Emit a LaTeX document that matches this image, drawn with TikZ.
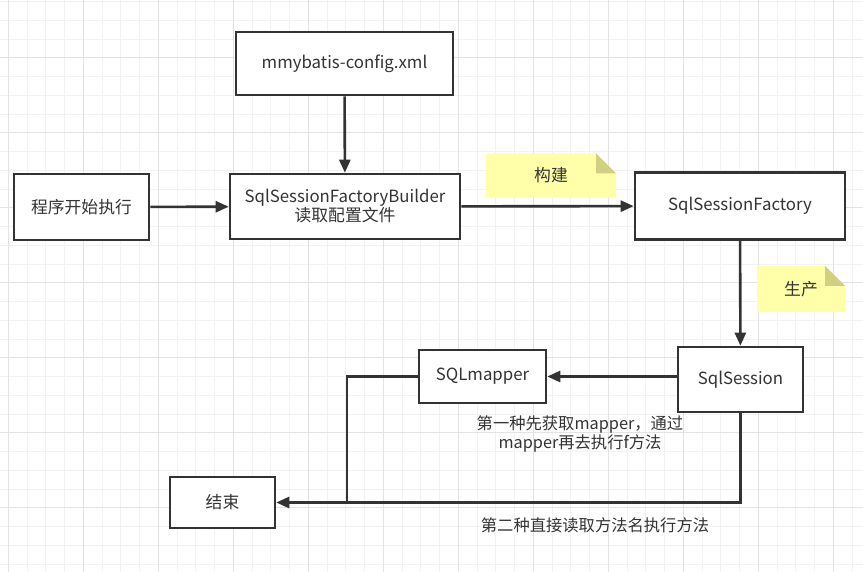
\documentclass[tikz,border=0pt]{standalone}
\usepackage{fontspec}
\setmainfont{Noto Sans CJK SC}
\usepackage{xcolor}
\usetikzlibrary{arrows.meta,positioning,calc}

\definecolor{inkgray}{HTML}{333333}
\definecolor{gridminor}{HTML}{F2F2F2}
\definecolor{gridmajor}{HTML}{E3E3E3}
\definecolor{noteyellow}{HTML}{FFFFAA}
\definecolor{notefold}{HTML}{D0D080}

\begin{document}
\begin{tikzpicture}[
    x=1pt, y=-1pt,
    font=\fontsize{16.8}{20}\selectfont, text=inkgray,
    block/.style={rectangle, draw=inkgray, line width=2.6pt, fill=white, text centered, align=center},
    notebox/.style={rectangle, minimum width=130pt, minimum height=44pt, text centered,
        path picture={
            \fill[noteyellow] (path picture bounding box.south west) -- (path picture bounding box.south east)
                -- ([yshift=-20pt]path picture bounding box.north east) -- ([xshift=-20pt]path picture bounding box.north east)
                -- (path picture bounding box.north west) -- cycle;
            \fill[notefold] ([xshift=-20pt]path picture bounding box.north east) -- ([yshift=-20pt]path picture bounding box.north east)
                -- ([xshift=-20pt,yshift=-20pt]path picture bounding box.north east) -- cycle;
        }},
    line/.style={draw=inkgray, line width=2.6pt},
    arrow/.style={line, -{Triangle[length=13pt, width=11pt]}}
]
    \useasboundingbox (0,0) rectangle (863,572);
    \fill[white] (0,0) rectangle (863,572);

    % grid
    \foreach \i in {0,...,46} {
        \draw[gridminor, line width=1pt] ({8.3+18.75*\i},0) -- ({8.3+18.75*\i},572);
    }
    \foreach \i in {0,...,30} {
        \draw[gridminor, line width=1pt] (0,{1.7+18.75*\i}) -- (863,{1.7+18.75*\i});
    }
    \foreach \i in {0,...,11} {
        \draw[gridmajor, line width=1pt] ({8.3+75*\i},0) -- ({8.3+75*\i},572);
        \draw[gridmajor, line width=1pt] (0,{57.9+75*\i}) -- (863,{57.9+75*\i});
    }

    \node[block, minimum width=217pt, minimum height=63pt] (config) at (344.5,63.5) {mmybatis-config.xml};
    \node[block, minimum width=135pt, minimum height=66pt] (start) at (81.5,207) {程序开始执行};
    \node[block, minimum width=230pt, minimum height=65pt] (builder) at (345,206.5) {SqlSessionFactoryBuilder\\[-1pt]读取配置文件};
    \node[block, minimum width=210pt, minimum height=67pt] (factory) at (740,206) {SqlSessionFactory};
    \node[block, minimum width=125pt, minimum height=65pt] (session) at (740.5,379.5) {SqlSession};
    \node[block, minimum width=127pt, minimum height=53pt] (mapper) at (482.5,376.5) {SQLmapper};
    \node[block, minimum width=105pt, minimum height=51pt] (finish) at (222.5,502.5) {结束};

    \node[notebox] (buildnote) at (551,175.5) {构建};
    \node[notebox, minimum width=88pt, minimum height=46pt] (producenote) at (801,289) {生产};

    \coordinate (joint) at (347,502.5);

    \draw[arrow] (config) -- (builder);
    \draw[arrow] (start) -- (builder);
    \draw[arrow] (builder) -- (factory);
    \draw[arrow] (factory) -- (session);
    \draw[arrow] (session.west |- mapper) -- (mapper);
    \draw[line] (mapper.west) -| (joint);
    \draw[arrow] (session.south) |- (finish.east);

    \node[align=center, font=\fontsize{16.3}{19}\selectfont] (waylabel1) at (580,434) {第一种先获取mapper，通过\\mapper再去执行f方法};
    \node[font=\fontsize{16.3}{19}\selectfont] (waylabel2) at (595,525) {第二种直接读取方法名执行方法};
\end{tikzpicture}
\end{document}
